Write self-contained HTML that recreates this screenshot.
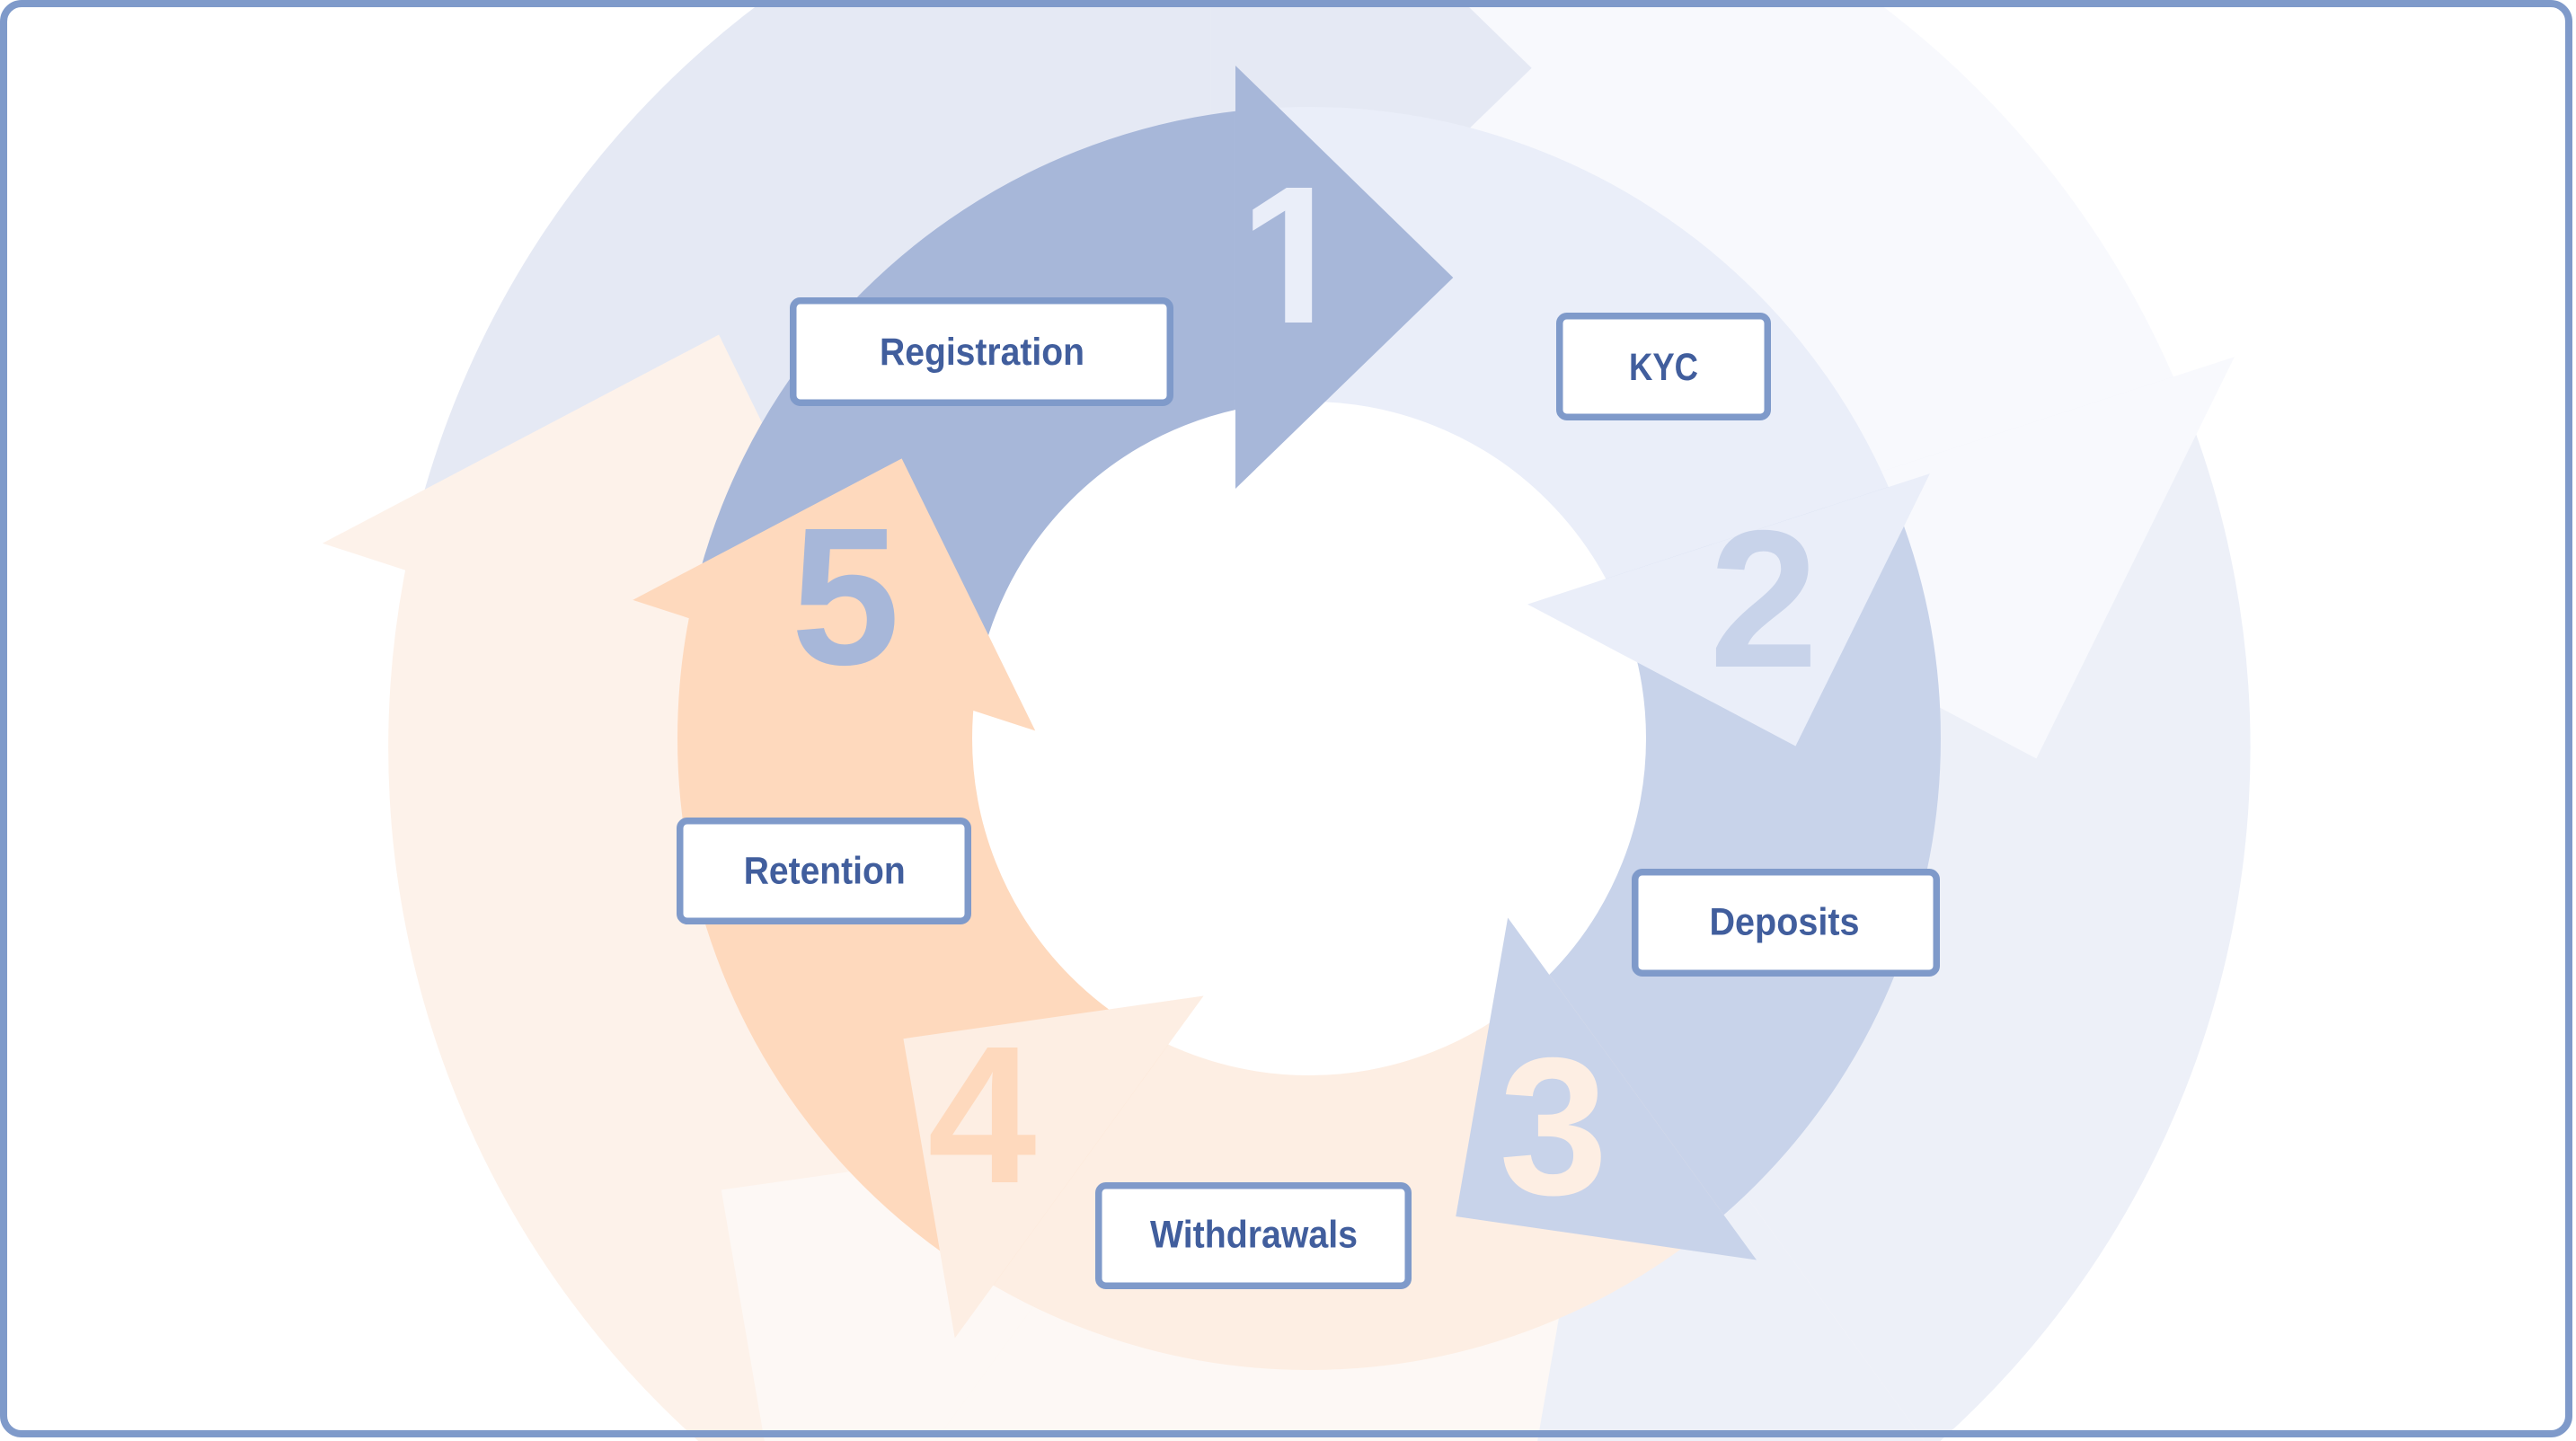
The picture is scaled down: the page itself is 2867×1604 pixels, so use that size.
<!DOCTYPE html>
<html>
<head>
<meta charset="utf-8">
<style>
html,body{margin:0;padding:0;background:#ffffff;width:2867px;height:1604px;overflow:hidden;}
svg{display:block;}
.lbl{font-family:"Liberation Sans",Arial,sans-serif;font-weight:bold;font-size:43px;fill:#415e9d;}
.num{font-family:"Liberation Sans",Arial,sans-serif;font-weight:bold;font-size:218px;}
</style>
</head>
<body>
<svg xmlns="http://www.w3.org/2000/svg" width="2867" height="1604" viewBox="0 0 2867 1604" overflow="hidden">
<defs>
  <clipPath id="page"><rect x="0" y="0" width="2867" height="1604"/></clipPath>
  <clipPath id="w1"><polygon points="1152.2,813.4 -179.2,380.8 1377,-856 1377,544"/></clipPath>
  <clipPath id="w2"><polygon points="1152.2,813.4 -179.2,380.8 1377,-856 1377,544" transform="rotate(72 1449 832)"/></clipPath>
  <clipPath id="w3"><polygon points="1152.2,813.4 -179.2,380.8 1377,-856 1377,544" transform="rotate(144 1449 832)"/></clipPath>
  <clipPath id="w4"><polygon points="1152.2,813.4 -179.2,380.8 1377,-856 1377,544" transform="rotate(216 1449 832)"/></clipPath>
  <clipPath id="w5"><polygon points="1152.2,813.4 -179.2,380.8 1377,-856 1377,544" transform="rotate(288 1449 832)"/></clipPath>
  <clipPath id="oneTop"><rect x="1300" y="150" width="300" height="182"/></clipPath>
  <clipPath id="oneBot"><rect x="1300" y="332" width="300" height="27"/></clipPath>
</defs>

<g clip-path="url(#page)">
<rect x="0" y="0" width="2867" height="1604" fill="#ffffff"/>

<!-- Outer faint scaled copy -->
<g transform="translate(1433 801) scale(1.474) translate(-1433 -801)">
  <circle cx="1457" cy="822" r="539" fill="none" stroke="#e5e9f4" stroke-width="328" clip-path="url(#w1)"/>
  <circle cx="1457" cy="822" r="539" fill="none" stroke="#f8f9fd" stroke-width="328" clip-path="url(#w2)"/>
  <circle cx="1457" cy="822" r="539" fill="none" stroke="#edf0f8" stroke-width="328" clip-path="url(#w3)"/>
  <circle cx="1457" cy="822" r="539" fill="none" stroke="#fdf8f5" stroke-width="328" clip-path="url(#w4)"/>
  <circle cx="1457" cy="822" r="539" fill="none" stroke="#fdf2ea" stroke-width="328" clip-path="url(#w5)"/>
  <polygon points="1375,73 1617.3,309 1375,544" fill="#e5e9f4"/>
  <polygon points="1375,73 1617.3,309 1375,544" fill="#f8f9fd" transform="rotate(72 1449 832)"/>
  <polygon points="1375,73 1617.3,309 1375,544" fill="#edf0f8" transform="rotate(144 1449 832)"/>
  <polygon points="1375,73 1617.3,309 1375,544" fill="#fdf8f5" transform="rotate(216 1449 832)"/>
  <polygon points="1375,73 1617.3,309 1375,544" fill="#fdf2ea" transform="rotate(288 1449 832)"/>
</g>

<!-- Inner ring -->
<g>
  <circle cx="1457" cy="822" r="539" fill="none" stroke="#a7b7d9" stroke-width="328" clip-path="url(#w1)"/>
  <circle cx="1457" cy="822" r="539" fill="none" stroke="#eaeef9" stroke-width="328" clip-path="url(#w2)"/>
  <circle cx="1457" cy="822" r="539" fill="none" stroke="#c8d3ea" stroke-width="328" clip-path="url(#w3)"/>
  <circle cx="1457" cy="822" r="539" fill="none" stroke="#fdeee3" stroke-width="328" clip-path="url(#w4)"/>
  <circle cx="1457" cy="822" r="539" fill="none" stroke="#fed9bd" stroke-width="328" clip-path="url(#w5)"/>
  <polygon points="1375,73 1617.3,309 1375,544" fill="#a7b7d9"/>
  <polygon points="1375,73 1617.3,309 1375,544" fill="#eaeef9" transform="rotate(72 1449 832)"/>
  <polygon points="1375,73 1617.3,309 1375,544" fill="#c8d3ea" transform="rotate(144 1449 832)"/>
  <polygon points="1375,73 1617.3,309 1375,544" fill="#fdeee3" transform="rotate(216 1449 832)"/>
  <polygon points="1375,73 1617.3,309 1375,544" fill="#fed9bd" transform="rotate(288 1449 832)"/>
</g>

<!-- Numbers -->
<text class="num" x="1440" y="359" text-anchor="middle" fill="#eaeef9" clip-path="url(#oneTop)">1</text>
<g clip-path="url(#oneBot)"><text class="num" x="1440" y="389" text-anchor="middle" fill="#eaeef9">1</text></g>
<text class="num" x="1963" y="742" text-anchor="middle" fill="#c8d3ea">2</text>
<text class="num" x="1729" y="1329" text-anchor="middle" fill="#fdeee3">3</text>
<text class="num" x="1093" y="1316" text-anchor="middle" fill="#fed9bd">4</text>
<text class="num" x="941" y="739" text-anchor="middle" fill="#a7b7d9">5</text>

<!-- Label boxes -->
<g fill="#ffffff" stroke="#7f9aca" stroke-width="7.5">
  <rect x="882.75" y="334.75" width="419.5" height="113.5" rx="8" ry="8"/>
  <rect x="1735.75" y="351.75" width="231.5" height="112.5" rx="8" ry="8"/>
  <rect x="1819.75" y="970.75" width="335.5" height="112.5" rx="8" ry="8"/>
  <rect x="1222.75" y="1319.75" width="344.5" height="111.5" rx="8" ry="8"/>
  <rect x="756.75" y="913.75" width="320.5" height="111.5" rx="8" ry="8"/>
</g>

<text class="lbl" x="1093" y="406" text-anchor="middle" textLength="228" lengthAdjust="spacingAndGlyphs">Registration</text>
<text class="lbl" x="1851.5" y="423" text-anchor="middle" textLength="77" lengthAdjust="spacingAndGlyphs">KYC</text>
<text class="lbl" x="1986" y="1040.5" text-anchor="middle" textLength="167" lengthAdjust="spacingAndGlyphs">Deposits</text>
<text class="lbl" x="1395.5" y="1388.7" text-anchor="middle" textLength="231" lengthAdjust="spacingAndGlyphs">Withdrawals</text>
<text class="lbl" x="917.7" y="983.6" text-anchor="middle" textLength="180" lengthAdjust="spacingAndGlyphs">Retention</text>

<!-- Frame -->
<rect x="4" y="4" width="2855" height="1592" rx="20" ry="20" fill="none" stroke="#7f9aca" stroke-width="8"/>
</g>
</svg>
</body>
</html>
